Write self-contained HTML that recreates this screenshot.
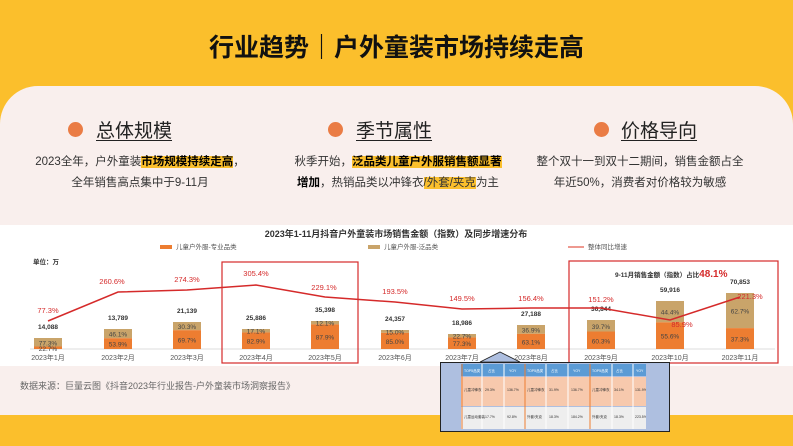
<!DOCTYPE html><html><head><meta charset="utf-8"><style>
body{margin:0;width:793px;height:446px;overflow:hidden;background:#fbbf2c;font-family:"Liberation Sans","Noto Sans CJK SC",sans-serif;position:relative}
.a{position:absolute}
.card{left:0;top:86px;width:793px;height:329px;background:#f9efed;border-radius:38px 38px 0 0}
.h{font-size:19px;text-decoration:underline;color:#222;text-underline-offset:3px}
.dot{width:15px;height:15px;border-radius:50%;background:#ea7c45}
.t{font-size:11.5px;color:#333;text-align:center;line-height:21px}
.hl{background:#fbbf2c;font-weight:bold;color:#000}
.hl2{background:#fbbf2c}
svg text{font-family:"Liberation Sans","Noto Sans CJK SC",sans-serif}
</style></head><body>
<div class="a" style="left:0;top:28px;width:793px;text-align:center;font-size:25px;font-weight:bold;color:#111">行业趋势｜户外童装市场持续走高</div>
<div class="a card"></div>
<div class="a dot" style="left:68px;top:122px"></div><div class="a h" style="left:96px;top:116px">总体规模</div>
<div class="a dot" style="left:328px;top:122px"></div><div class="a h" style="left:356px;top:116px">季节属性</div>
<div class="a dot" style="left:594px;top:122px"></div><div class="a h" style="left:621px;top:116px">价格导向</div>
<div class="a t" style="left:10px;top:152px;width:260px">2023全年，户外童装<span class="hl">市场规模持续走高</span>，<br>全年销售高点集中于9-11月</div>
<div class="a t" style="left:278px;top:152px;width:240px">秋季开始，<span class="hl">泛品类儿童户外服销售额显著</span><br><b style="color:#000">增加</b>，热销品类以冲锋衣<span class="hl2">/外套/夹克</span>为主</div>
<div class="a t" style="left:530px;top:152px;width:220px">整个双十一到双十二期间，销售金额占全<br>年近50%，消费者对价格较为敏感</div>
<svg class="a" style="left:0;top:225px" width="793" height="141" viewBox="0 225 793 141">
<rect x="0" y="225" width="793" height="141" fill="#fff"/>
<text x="396" y="237" font-size="9" font-weight="bold" text-anchor="middle" fill="#333">2023年1-11月抖音户外童装市场销售金额（指数）及同步增速分布</text>
<rect x="160" y="245" width="12" height="4" fill="#ed7d31"/><text x="176" y="249" font-size="6.5" fill="#555">儿童户外服-专业品类</text>
<rect x="368" y="245" width="12" height="4" fill="#c9a46a"/><text x="384" y="249" font-size="6.5" fill="#555">儿童户外服-泛品类</text>
<line x1="568" y1="247" x2="584" y2="247" stroke="#d32"/><text x="588" y="249" font-size="6.5" fill="#555">整体同比增速</text>
<text x="33" y="264" font-size="6.5" font-weight="bold" fill="#333">单位：万</text>
<line x1="30" y1="349" x2="775" y2="349" stroke="#ddd"/>
<g font-size="6.5" text-anchor="middle">
<g id="bars"></g>
</g>
<polyline points="48,321 118,292 187,290 256,285 325,297 395,302 462,309 531,308 601,308 670,320 740,297" fill="none" stroke="#d52a2a" stroke-width="1.5"/>
<g font-size="7.5" fill="#d52a2a" text-anchor="middle">
<text x="48" y="313">77.3%</text><text x="112" y="284">260.6%</text><text x="187" y="282">274.3%</text><text x="256" y="276">305.4%</text><text x="324" y="290">229.1%</text><text x="395" y="294">193.5%</text><text x="462" y="301">149.5%</text><text x="531" y="301">156.4%</text><text x="601" y="302">151.2%</text><text x="682" y="327">85.9%</text><text x="750" y="299">221.3%</text>
</g>
<rect x="222" y="262" width="136" height="101" fill="none" stroke="#d52a2a" stroke-width="1.2"/>
<rect x="569" y="261" width="209" height="102" fill="none" stroke="#d52a2a" stroke-width="1.2"/>
<text x="615" y="277" font-size="6.5" font-weight="bold" fill="#333">9-11月销售金额（指数）占比<tspan font-size="10" fill="#d52a2a">48.1%</tspan></text>
<polygon points="480,362 500,352 520,362" fill="#aebfe0" stroke="#222" stroke-width="0.8"/>
</svg>
<div class="a" style="left:20px;top:379px;font-size:9px;color:#666">数据来源：巨量云图《抖音2023年行业报告-户外童装市场洞察报告》</div>
<div class="a" style="left:440px;top:362px;width:228px;height:68px;background:#aebfe0;border:1px solid #222"></div>
<div class="a" style="left:461px;top:364px;width:185px;height:12px;background:#5b9bd5"></div>
<div class="a" style="left:461px;top:377px;width:185px;height:29px;background:#f7c9ad"></div>
<div class="a" style="left:461px;top:407px;width:185px;height:22px;background:#eee"></div>
<svg class="a" style="left:461px;top:364px" width="185" height="65">
<g stroke="#fff" stroke-width="1"><line x1="21" y1="0" x2="21" y2="65"/><line x1="43" y1="0" x2="43" y2="65"/><line x1="85" y1="0" x2="85" y2="65"/><line x1="107" y1="0" x2="107" y2="65"/><line x1="151" y1="0" x2="151" y2="65"/><line x1="172" y1="0" x2="172" y2="65"/></g>
<g stroke="#ed7d31"><line x1="1" y1="0" x2="1" y2="65"/><line x1="64" y1="0" x2="64" y2="65"/><line x1="129" y1="0" x2="129" y2="65"/></g>
<g font-size="3.5" fill="#fff" font-family="Liberation Sans"><text x="3" y="8">TOP5品类</text><text x="27" y="8">占比</text><text x="48" y="8">YOY</text><text x="66" y="8">TOP5品类</text><text x="90" y="8">占比</text><text x="112" y="8">YOY</text><text x="131" y="8">TOP5品类</text><text x="155" y="8">占比</text><text x="175" y="8">YOY</text></g>
<g font-size="3.5" fill="#333" font-family="Liberation Sans,Noto Sans CJK SC"><text x="3" y="27">儿童冲锋衣</text><text x="24" y="27">29.3%</text><text x="46" y="27">136.7%</text><text x="66" y="27">儿童冲锋衣</text><text x="88" y="27">31.9%</text><text x="110" y="27">136.7%</text><text x="131" y="27">儿童冲锋衣</text><text x="153" y="27">34.1%</text><text x="174" y="27">131.9%</text>
<text x="3" y="54">儿童运动套装</text><text x="24" y="54">17.7%</text><text x="46" y="54">92.8%</text><text x="66" y="54">外套/夹克</text><text x="88" y="54">18.3%</text><text x="110" y="54">184.2%</text><text x="131" y="54">外套/夹克</text><text x="153" y="54">18.3%</text><text x="174" y="54">223.5%</text></g>
</svg>
<script>
var d=[[48,338,"14,088",22.7],[118,329,"13,789",53.9],[187,322,"21,139",69.7],[256,329,"25,886",82.9],[325,321,"35,398",87.9],[395,330,"24,357",85.0],[462,334,"18,986",77.3],[531,325,"27,188",63.1],[601,320,"36,844",60.3],[670,301,"59,916",55.6],[740,293,"70,853",37.3]];
var s="";d.forEach(function(b,i){var h=349-b[1],o=h*b[3]/100;
s+='<rect x="'+(b[0]-14)+'" y="'+b[1]+'" width="28" height="'+(h-o)+'" fill="#c9a46a"/><rect x="'+(b[0]-14)+'" y="'+(349-o)+'" width="28" height="'+o+'" fill="#ed7d31"/>';
s+='<text x="'+b[0]+'" y="'+(b[1]-9)+'" font-weight="bold" fill="#333">'+b[2]+'</text>';
s+='<text x="'+b[0]+'" y="'+(b[1]+(h-o)/2+3)+'" fill="#444">'+(100-b[3]).toFixed(1)+'%</text>';
s+='<text x="'+b[0]+'" y="'+(349-o/2+3)+'" fill="#444">'+b[3].toFixed(1)+'%</text>';
s+='<text x="'+b[0]+'" y="360" fill="#555" font-size="7">2023年'+(i+1)+'月</text>';});
document.getElementById("bars").innerHTML=s;
</script>
</body></html>
